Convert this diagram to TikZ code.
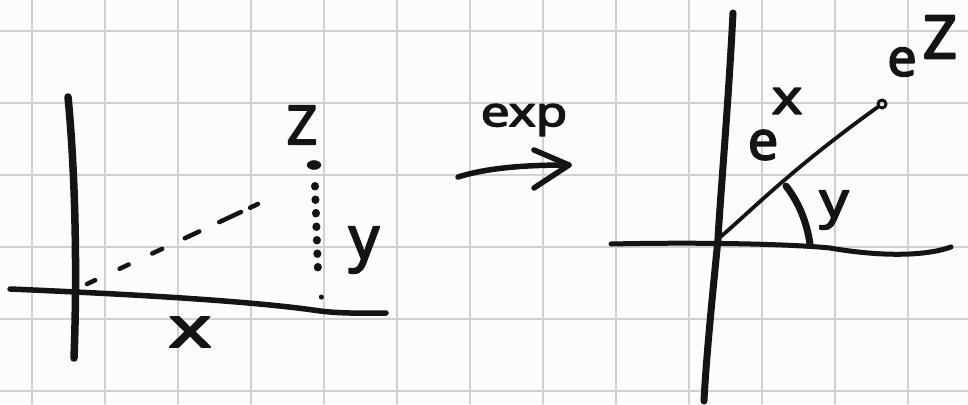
\documentclass[tikz,border=0pt]{standalone}
\usepackage{fontspec}
\usetikzlibrary{shapes.geometric}
\setmainfont{Noto Sans}[AutoFakeBold=3]
\begin{document}
\begin{tikzpicture}[x=1pt,y=-1pt,line cap=round,line join=round,
  gridline/.style={draw=black!18,line width=1.3pt},
  ink/.style={draw=black!92},
  axisthick/.style={ink,line width=7pt},
  axismid/.style={ink,line width=5.5pt},
  lbl/.style={inner sep=0pt,text=black!92},
  fs/.style={font=\fontsize{#1}{#1}\selectfont\bfseries}]
\fill[black!1] (0,0) rectangle (968,404);
\useasboundingbox (0,0) rectangle (968,404);
% grid
\foreach \gx in {32,105,178,251,324,397,470,543,616,689,762,835,908}
  \draw[gridline] (\gx,0) -- (\gx,404);
\foreach \gy in {31,103,175,247,319,391}
  \draw[gridline] (0,\gy) -- (968,\gy);

% ---------- left plane ----------
\coordinate (lvtop) at (68,97);
\coordinate (lvbot) at (74,358);
\coordinate (lhl) at (10,289);
\coordinate (lhm) at (320,311);
\coordinate (lhr) at (386,313);
\draw[axisthick,line width=7.5pt] (lvtop) .. controls (76,180) and (77,280) .. (lvbot);
\draw[axismid] (lhl) .. controls (150,295) and (260,302) .. (lhm) .. controls (345,314) and (370,313) .. (lhr);
% dashed line
\coordinate (dstart) at (87,284);
\coordinate (dend) at (258,204);
\draw[ink,line width=4.5pt,dash pattern=on 9pt off 27pt on 10pt off 26pt on 11pt off 25pt on 16pt off 22pt on 24pt off 10pt,line cap=round] (dstart) -- (dend);
% point z and dotted line
\node[ink,fill=black!92,ellipse,minimum width=14pt,minimum height=9pt,inner sep=0pt] (zpt) at (314,165) {};
\coordinate (zfoot) at (321,297);
\draw[ink,line width=8pt,dash pattern=on 0.5pt off 13pt] (315,186) -- (318,272);
\draw[ink,line width=5pt] (zfoot) -- ++(0,0.1);
\node[lbl,fs=54] (zlab) at (302,125) {Z};
\node[lbl,fs=60] (ylab) at (364,250) {y};
\node[lbl,fs=56] (xlab) at (190,332) {\scalebox{1.45}[1]{x}};

% ---------- exp arrow ----------
\node[lbl,fs=41] (explab) at (524,120) {\scalebox{1.25}[1]{exp}};
\coordinate (astart) at (458,177);
\coordinate (aend) at (569,165);
\coordinate (ahup) at (534,150);
\coordinate (ahdn) at (534,188);
\draw[axismid] (astart) .. controls (490,167) and (530,165) .. (aend);
\draw[axismid] (ahup) -- (aend) -- (ahdn);

% ---------- right plane ----------
\coordinate (rvtop) at (733,13);
\coordinate (rvbot) at (704,401);
\coordinate (rhl) at (611,244);
\coordinate (rhm) at (830,248);
\coordinate (rhr) at (951,247);
\coordinate (origin) at (718,239);
\draw[axisthick,line width=7pt] (rvtop) .. controls (728,110) and (720,200) .. (origin) .. controls (712,300) and (706,360) .. (rvbot);
\draw[axismid,line width=5pt] (rhl) .. controls (700,242) and (790,244) .. (rhm) .. controls (870,255) and (920,258) .. (rhr);
\node[circle,ink,line width=3pt,minimum size=8pt,inner sep=0pt] (ez) at (882,104) {};
\draw[ink,line width=3.8pt] (origin) .. controls (750,212) and (790,170) .. (ez);
\coordinate (arcA) at (786,186);
\coordinate (arcB) at (810,244);
\draw[ink,line width=7pt] (arcA) .. controls (800,204) and (807,224) .. (arcB);
\node[lbl,fs=50] (yang) at (834,210) {\scalebox{1.15}[1]{y}};
\node[lbl,fs=54] (exbase) at (763,145) {e};
\node[lbl,fs=48] (exsup) at (787,101) {\scalebox{1.2}[1]{x}};
\node[lbl,fs=52] (ezbase) at (902,62) {e};
\node[lbl,fs=60] (ezsup) at (940,37) {Z};
\end{tikzpicture}
\end{document}
